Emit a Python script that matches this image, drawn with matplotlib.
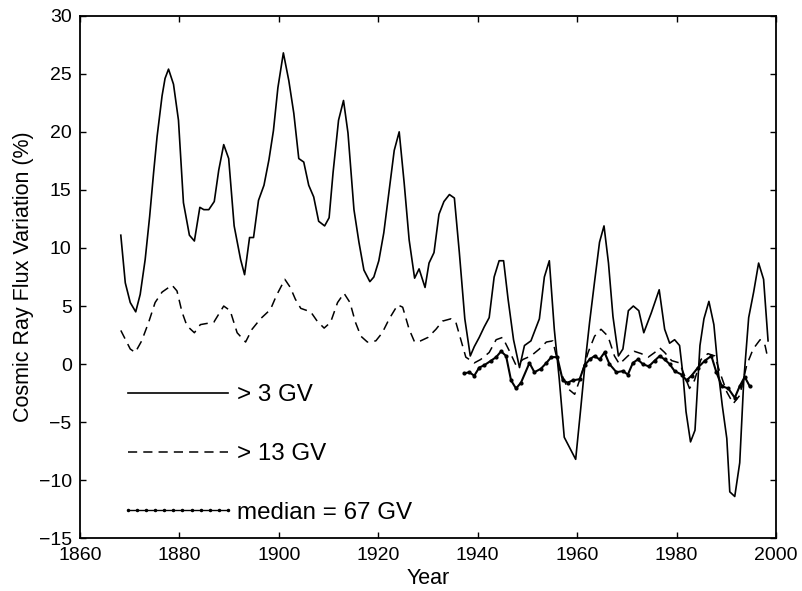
#!/usr/bin/env python3
"""
Cosmic ray flux variation since 1868 for three rigidity thresholds
(>3 GV, >13 GV and median = 67 GV), redrawn as a MATLAB-style line plot.

Output: out.png (802x591)
"""

import matplotlib

matplotlib.use("Agg")
import matplotlib.pyplot as plt  # noqa: E402

# values (year, % variation)
years_3gv = [
    1868.2, 1869.1, 1870.1, 1871.2, 1872.1, 1873.1, 1874.0, 1874.8, 1875.5, 1876.5,
    1877.1, 1877.8, 1878.8, 1879.8, 1880.8, 1882.0, 1883.0, 1884.1, 1884.9, 1885.9,
    1887.0, 1887.9, 1888.9, 1889.9, 1891.0, 1892.3, 1893.1, 1894.1, 1894.9, 1895.9,
    1897.0, 1898.0, 1898.9, 1899.8, 1900.9, 1902.0, 1903.0, 1904.0, 1905.0, 1906.0,
    1907.0, 1908.0, 1909.2, 1910.1, 1910.9, 1912.0, 1913.0, 1913.9, 1915.1, 1916.1,
    1917.1, 1918.3, 1919.1, 1920.1, 1921.1, 1922.2, 1923.2, 1924.2, 1925.2, 1926.2,
    1927.3, 1928.2, 1929.4, 1930.2, 1931.2, 1932.2, 1933.2, 1934.3, 1935.3, 1936.3,
    1937.4, 1938.5, 1939.3, 1940.3, 1941.3, 1942.3, 1943.3, 1944.3, 1945.2, 1946.1,
    1947.2, 1948.4, 1949.4, 1950.7, 1952.4, 1953.4, 1954.4, 1955.4, 1956.4, 1957.4,
    1958.6, 1959.7, 1960.7, 1961.6, 1962.5, 1963.5, 1964.5, 1965.4, 1966.3, 1967.2,
    1968.3, 1969.2, 1970.3, 1971.3, 1972.4, 1973.4, 1974.9, 1976.5, 1977.6, 1978.6,
    1979.6, 1980.6, 1981.3, 1981.9, 1982.8, 1983.7, 1984.7, 1985.5, 1986.5, 1987.5,
    1988.4, 1989.2, 1990.1, 1990.7, 1991.7, 1992.7, 1993.5, 1994.5, 1995.5, 1996.5,
    1997.5, 1998.4,
]
flux_3gv = [
    11.1, 7.0, 5.3, 4.5, 6.0, 9.0, 12.7, 16.5, 19.6, 23.1,
    24.6, 25.4, 24.1, 21.0, 13.9, 11.1, 10.6, 13.5, 13.3, 13.3,
    14.0, 16.7, 18.9, 17.7, 11.9, 9.0, 7.7, 10.9, 10.9, 14.1,
    15.4, 17.6, 20.1, 23.8, 26.8, 24.4, 21.6, 17.7, 17.4, 15.4,
    14.4, 12.3, 11.9, 12.6, 16.5, 21.0, 22.7, 19.9, 13.3, 10.5,
    8.1, 7.1, 7.5, 8.9, 11.3, 15.0, 18.4, 20.0, 15.6, 10.7,
    7.4, 8.2, 6.6, 8.7, 9.6, 12.9, 14.0, 14.6, 14.3, 9.6,
    3.9, 0.7, 1.5, 2.3, 3.2, 4.0, 7.5, 8.9, 8.9, 5.6,
    2.1, -0.3, 1.6, 2.0, 3.9, 7.5, 8.9, 3.0, -1.3, -6.3,
    -7.3, -8.2, -3.9, 0.1, 3.6, 7.1, 10.5, 11.9, 8.7, 4.1,
    0.7, 1.3, 4.6, 5.0, 4.6, 2.7, 4.4, 6.4, 3.0, 1.8,
    2.1, 1.6, -1.0, -4.1, -6.7, -5.7, 1.6, 3.9, 5.4, 3.4,
    -0.7, -3.6, -6.4, -11.0, -11.4, -8.5, -1.5, 4.0, 6.2, 8.7,
    7.3, 2.0,
]

years_13gv = [
    1868.2, 1870.1, 1871.1, 1872.4, 1873.8, 1875.1, 1876.5, 1878.5, 1879.5, 1880.5,
    1881.5, 1883.0, 1884.2, 1885.5, 1886.9, 1887.9, 1888.9, 1890.2, 1891.6, 1893.3,
    1894.6, 1896.3, 1898.3, 1899.5, 1901.2, 1902.3, 1903.3, 1904.4, 1906.4, 1907.7,
    1909.1, 1910.4, 1911.8, 1913.1, 1914.3, 1915.4, 1916.5, 1917.8, 1919.5, 1920.8,
    1922.2, 1923.9, 1924.9, 1926.2, 1927.3, 1928.5, 1930.0, 1931.6, 1932.9, 1934.6,
    1935.6, 1936.6, 1937.6, 1939.3, 1940.6, 1942.3, 1943.7, 1945.0, 1946.4, 1947.7,
    1949.1, 1950.7, 1952.4, 1953.8, 1955.1, 1956.4, 1958.1, 1959.5, 1960.8, 1962.2,
    1963.5, 1964.8, 1966.2, 1967.5, 1968.5, 1970.2, 1971.5, 1972.9, 1974.3, 1975.6,
    1976.6, 1977.6, 1979.0, 1980.6, 1981.6, 1982.6, 1983.6, 1984.9, 1986.3, 1987.7,
    1988.7, 1990.1, 1991.4, 1992.7, 1994.1, 1995.4, 1996.8, 1997.8, 1998.4,
]
flux_13gv = [
    2.9, 1.3, 1.0, 2.0, 3.6, 5.3, 6.2, 6.8, 6.3, 4.5,
    3.3, 2.7, 3.4, 3.5, 3.6, 4.3, 5.0, 4.6, 2.7, 1.9,
    3.0, 3.9, 4.7, 5.9, 7.3, 6.6, 5.6, 4.8, 4.5, 3.7,
    3.1, 3.6, 5.3, 6.1, 5.3, 3.6, 2.4, 1.9, 2.0, 2.7,
    3.9, 5.1, 4.9, 3.0, 1.9, 2.0, 2.3, 3.0, 3.7, 3.9,
    3.6, 2.1, 0.6, 0.1, 0.4, 1.0, 2.1, 2.3, 1.1, -0.1,
    0.4, 0.7, 1.3, 1.9, 2.0, -0.4, -2.1, -2.6, -1.0, 1.0,
    2.4, 3.0, 2.4, 0.7, 0.0, 0.7, 1.1, 0.9, 0.6, 1.0,
    1.4, 1.0, 0.3, 0.1, -1.0, -2.1, -1.4, 0.4, 0.9, 0.7,
    -0.7, -2.4, -3.4, -2.7, -0.1, 1.3, 2.1, 1.6, 0.4,
]

years_67gv = [
    1937.3, 1938.3, 1939.3, 1940.3, 1941.3, 1942.7, 1943.7, 1944.7, 1945.7, 1946.7,
    1947.7, 1948.7, 1950.4, 1951.4, 1952.7, 1953.8, 1954.8, 1956.0, 1957.1, 1958.1,
    1959.1, 1960.5, 1961.5, 1962.5, 1963.5, 1964.5, 1965.5, 1966.5, 1967.9, 1969.2,
    1970.2, 1971.2, 1972.2, 1973.2, 1974.4, 1975.6, 1976.6, 1977.6, 1978.6, 1979.6,
    1981.0, 1982.0, 1983.0, 1984.3, 1985.7, 1987.0, 1988.0, 1989.1, 1990.4, 1991.7,
    1992.7, 1993.7, 1994.7,
]
flux_67gv = [
    -0.8, -0.7, -1.0, -0.3, -0.1, 0.3, 0.6, 1.1, 0.7, -1.4,
    -2.1, -1.6, 0.1, -0.7, -0.4, 0.1, 0.6, 0.6, -1.4, -1.6,
    -1.4, -1.3, -0.1, 0.4, 0.7, 0.4, 1.0, 0.0, -0.7, -0.6,
    -0.9, 0.1, 0.4, 0.0, -0.2, 0.3, 0.7, 0.4, 0.0, -0.6,
    -0.9, -1.4, -1.0, -0.3, 0.3, 0.7, -0.7, -1.9, -2.1, -2.9,
    -1.9, -1.1, -1.9,
]

labels = ["> 3 GV", "> 13 GV", "median = 67 GV"]
x_ticks = [1860, 1880, 1900, 1920, 1940, 1960, 1980, 2000]
y_ticks = [-15, -10, -5, 0, 5, 10, 15, 20, 25, 30]


def main() -> None:
    plt.rcParams["font.family"] = ["Liberation Sans", "DejaVu Sans"]

    fig = plt.figure(figsize=(8.02, 5.91), dpi=100)
    ax = fig.add_axes((0.0998, 0.0892, 0.8678, 0.8842))

    ax.plot(years_3gv, flux_3gv, color="black", linewidth=1.2, label=labels[0])
    ax.plot(years_13gv, flux_13gv, color="black", linewidth=1.1,
            linestyle=(0, (6, 4)), label=labels[1])
    ax.plot(years_67gv, flux_67gv, color="black", linewidth=1.5, marker=".",
            markersize=4, label=labels[2])

    ax.set_xlim(1860, 2000)
    ax.set_ylim(-15, 30)
    ax.set_xticks(x_ticks)
    ax.set_yticks(y_ticks)
    ax.set_yticklabels([str(t).replace("-", "\u2212") for t in y_ticks])
    ax.tick_params(direction="in", length=4.5, width=1, labelsize=14,
                   top=True, right=True, pad=6)
    for s in ax.spines.values():
        s.set_linewidth(1.3)

    ax.set_xlabel("Year", fontsize=15.5, labelpad=3)
    ax.set_ylabel("Cosmic Ray Flux Variation (%)", fontsize=15.5, labelpad=3)

    leg = ax.legend(loc="center left", bbox_to_anchor=(0.0585, 0.161), frameon=False,
                    fontsize=17.4, handlelength=4.73, handletextpad=0.1,
                    labelspacing=1.52, numpoints=12, borderaxespad=0, borderpad=0)
    leg.get_lines()[2].set_linewidth(1.0)
    leg.get_lines()[2].set_markersize(3)

    fig.savefig("out.png", dpi=100)
    print("Wrote out.png")


if __name__ == "__main__":
    main()
